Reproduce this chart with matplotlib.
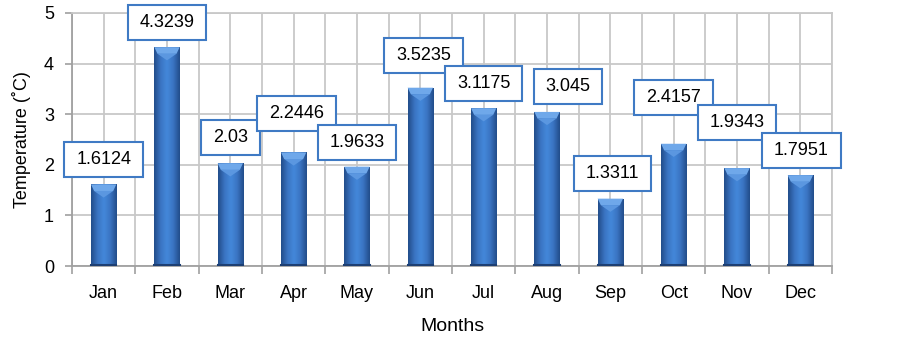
import numpy as np
import matplotlib
matplotlib.use("Agg")
import matplotlib.pyplot as plt
from matplotlib.colors import LinearSegmentedColormap
from matplotlib.patches import Polygon
from matplotlib.path import Path

plt.rcParams["font.family"] = ["Liberation Sans", "DejaVu Sans"]
plt.rcParams["font.size"] = 13

months = ["Jan", "Feb", "Mar", "Apr", "May", "Jun",
          "Jul", "Aug", "Sep", "Oct", "Nov", "Dec"]
temps = [1.6124, 4.3239, 2.03, 2.2446, 1.9633, 3.5235,
         3.1175, 3.045, 1.3311, 2.4157, 1.9343, 1.7951]
labels = ["1.6124", "4.3239", "2.03", "2.2446", "1.9633", "3.5235",
          "3.1175", "3.045", "1.3311", "2.4157", "1.9343", "1.7951"]

# label nudges in pixels (dx, dy) so the boxes sit like the original
nudge_x = [0, 0, 0, 3, 0, 3, 0, 21, 2, 0, 0, 1]
nudge_y = [25, 25, 26, 39, 24, 32, 25, 25, 25, 46, 46, 25]


def label_box(x0, y0, width, height, mutation_size):
    px = 0.66 * mutation_size
    py = 0.5 * mutation_size
    x0, y0 = x0 - px, y0 - py
    x1, y1 = x0 + width + 2 * px, y0 + height + 2 * py
    return Path([(x0, y0), (x1, y0), (x1, y1), (x0, y1), (x0, y0)], closed=True)


fig = plt.figure(figsize=(9.03, 3.39), dpi=100)
ax = fig.add_axes([0.0797, 0.2153, 0.8417, 0.7464])

x = np.arange(len(months))
w = 0.4
grad = LinearSegmentedColormap.from_list(
    "bar", ["#224d8a", "#3a74c2", "#4488da", "#3a74c2", "#224d8a"])
g = np.linspace(0, 1, 64).reshape(1, -1)

bars = ax.bar(x, temps, width=w, color="#3a74c2", zorder=2)
for b, v in zip(bars, temps):
    x0 = b.get_x()
    x1 = x0 + b.get_width()
    im = ax.imshow(g, cmap=grad, extent=[x0, x1, 0, v], aspect="auto",
                   zorder=2.5, interpolation="bicubic")
    im.set_clip_path(b)
    # light bevel at the top of each bar
    d = 0.13
    ax.add_patch(Polygon([[x0, v], [x1, v], [x1 - 0.05, v - d], [x0 + 0.05, v - d]],
                         closed=True, facecolor="#6fa8ea", edgecolor="none", zorder=3))
    ax.add_patch(Polygon([[x0 + 0.05, v - d], [x1 - 0.05, v - d], [(x0 + x1) / 2, v - 2 * d]],
                         closed=True, facecolor="#5b97e0", edgecolor="none", zorder=3))
    ax.plot([x0, x1], [0.02, 0.02], color="#1d3f73", lw=1.5, zorder=3)

for xi, v, t, dx, dy in zip(x, temps, labels, nudge_x, nudge_y):
    ax.annotate(t, (xi, v), xytext=(dx, dy), textcoords="offset pixels",
                ha="center", va="center", fontsize=13, zorder=5,
                bbox=dict(boxstyle=label_box, fc="white",
                          ec="#3f7ac4", lw=1.5))

ax.set_xlim(-0.5, len(months) - 0.5)
ax.set_ylim(0, 5)
ax.set_yticks(range(6))
ax.set_xticks(np.arange(-0.5, len(months)))
ax.set_xticklabels([])
ax.set_xticks(x, minor=True)
ax.set_xticklabels(months, minor=True)
ax.tick_params(axis="x", which="major", length=6, color="#a0a0a0", width=1.2)
ax.tick_params(axis="x", which="minor", length=0, pad=14)
ax.tick_params(axis="y", length=5, color="#a0a0a0", width=1.2, pad=8)
ax.grid(True, which="both", color="#c8c8c8", lw=1.3, zorder=0)
ax.set_axisbelow(True)
for s in ax.spines.values():
    s.set_color("#c8c8c8")
    s.set_linewidth(1.3)
ax.spines["left"].set_color("#a0a0a0")
ax.spines["bottom"].set_color("#a0a0a0")

ax.set_xlabel("Months", labelpad=11, fontsize=14)
ax.set_ylabel("Temperature (\u02daC)", labelpad=9)

fig.savefig("out.png", dpi=100)
